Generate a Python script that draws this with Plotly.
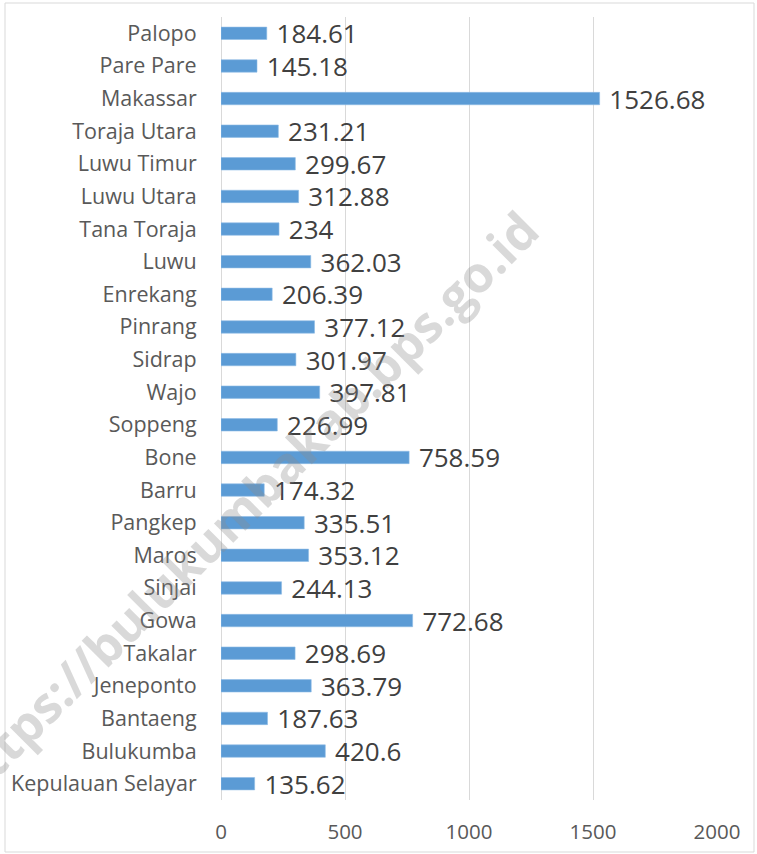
import plotly.graph_objects as go

categories = ["Palopo", "Pare Pare", "Makassar", "Toraja Utara", "Luwu Timur", "Luwu Utara",
              "Tana Toraja", "Luwu", "Enrekang", "Pinrang", "Sidrap", "Wajo", "Soppeng",
              "Bone", "Barru", "Pangkep", "Maros", "Sinjai", "Gowa", "Takalar", "Jeneponto",
              "Bantaeng", "Bulukumba", "Kepulauan Selayar"]
values = [184.61, 145.18, 1526.68, 231.21, 299.67, 312.88, 234, 362.03, 206.39, 377.12,
          301.97, 397.81, 226.99, 758.59, 174.32, 335.51, 353.12, 244.13, 772.68, 298.69,
          363.79, 187.63, 420.6, 135.62]
x_ticks = [0, 500, 1000, 1500, 2000]
watermark = "https://bulukumbakab.bps.go.id"

W, H = 757, 854
L, R, T, B = 221, 40, 17, 54
pw, ph = W - L - R, H - T - B

def px_x(p):
    return (p - L) / pw

def px_y(p):
    return (H - B - p) / ph

fig = go.Figure(go.Bar(
    x=values, y=categories, orientation="h",
    marker=dict(color="#5B9BD5", line=dict(color="#8FBCE6", width=0.6)),
    text=["\u00a0" + f"{v:g}" for v in values], textposition="outside", cliponaxis=False,
    constraintext="none",
    textfont=dict(family="Open Sans", size=26, color="#404040"),
    hoverinfo="skip",
))

fig.update_layout(
    width=W, height=H, margin=dict(l=L, r=R, t=T, b=B, autoexpand=False),
    paper_bgcolor="white", plot_bgcolor="white",
    bargap=0.62, showlegend=False,
    font=dict(family="Open Sans", color="#595959"),
    xaxis=dict(range=[0, 2000], tickvals=x_ticks, showgrid=True, gridcolor="#D9D9D9",
               gridwidth=1, zeroline=True, zerolinecolor="#D9D9D9", zerolinewidth=1,
               ticks="outside", ticklen=13, tickcolor="rgba(0,0,0,0)", automargin=False,
               tickfont=dict(size=20.5, color="#595959"), fixedrange=True),
    yaxis=dict(range=[len(categories) - 0.5, -0.5], showgrid=False, zeroline=False,
               ticks="outside", ticklen=19, tickcolor="rgba(0,0,0,0)", automargin=False,
               tickfont=dict(size=21.5, color="#595959"), fixedrange=True),
    shapes=[dict(type="rect", xref="paper", yref="paper",
                 x0=px_x(5), x1=px_x(754), y0=px_y(852), y1=px_y(3),
                 line=dict(color="#D9D9D9", width=1), fillcolor="rgba(0,0,0,0)", layer="below")],
    annotations=[dict(text=watermark, xref="paper", yref="paper",
                      x=px_x(244), y=px_y(505), xanchor="center", yanchor="middle",
                      showarrow=False, textangle=-45,
                      font=dict(family="Open Sans", size=50, color="rgba(140,140,140,0.33)",
                                weight="bold"))],
)

fig.write_html("out.html", config={"displayModeBar": False},
               post_script="document.body.style.margin='0';document.body.style.overflow='hidden';")
